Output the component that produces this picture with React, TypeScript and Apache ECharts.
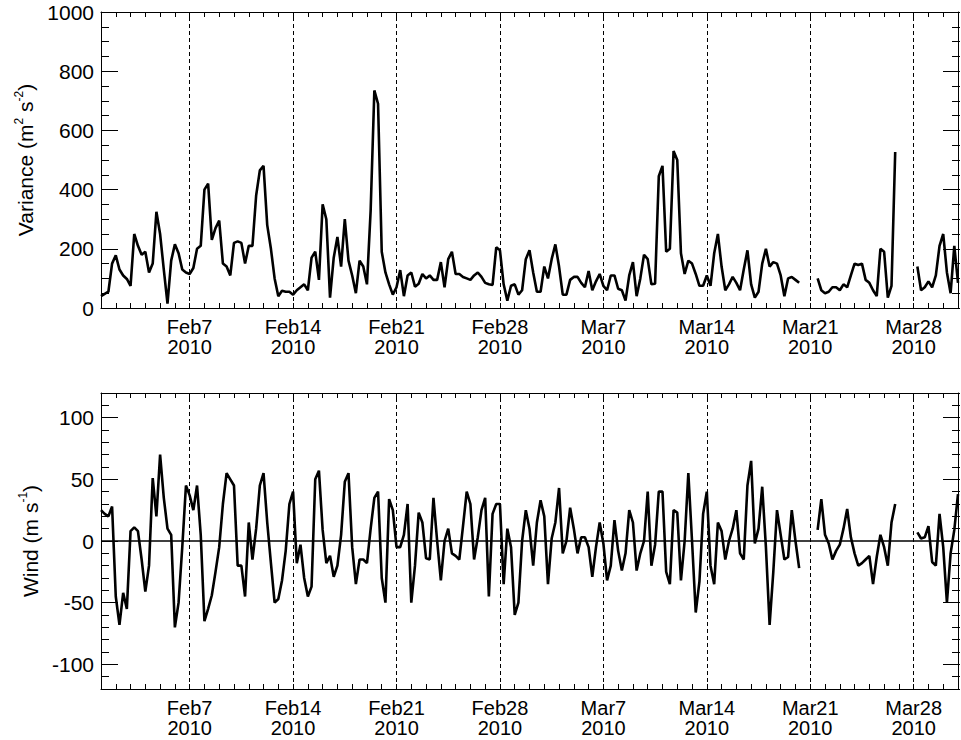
import React, { useEffect, useRef } from "react";
import * as echarts from "echarts";

// Sampling: 6-hourly from 2010-02-01 00:00 (x in days since Feb 1)
const STEP_DAYS = 0.25;
const X_MIN = 0;
const X_MAX = 58;

// Weekly reference dates (days since Feb 1) and their labels
const WEEK_DAYS = [6, 13, 20, 27, 34, 41, 48, 55];
const WEEK_LABELS = ["Feb7", "Feb14", "Feb21", "Feb28", "Mar7", "Mar14", "Mar21", "Mar28"];
const YEAR_LABEL = "2010";

const VAR_TICKS = [0, 200, 400, 600, 800, 1000];
const VAR_MINOR = [50, 100, 150, 250, 300, 350, 450, 500, 550, 650, 700, 750, 850, 900, 950];
const WIND_TICKS = [-100, -50, 0, 50, 100];
const WIND_MINOR = [-120, -110, -90, -80, -70, -60, -40, -30, -20, -10, 10, 20, 30, 40, 60, 70, 80, 90, 110, 120];

// Variance (m^2 s^-2), null = missing
const VARIANCE: (number | null)[] = [
  40, 48, 55, 150, 178, 130, 110, 98, 75, 250,
  210, 180, 190, 120, 150, 325, 250, 130, 15, 160,
  215, 185, 130, 120, 115, 135, 200, 210, 400, 420,
  230, 270, 295, 150, 140, 110, 220, 225, 220, 150,
  210, 210, 380, 465, 480, 280, 200, 100, 40, 58,
  55, 55, 45, 60, 70, 80, 60, 170, 190, 95,
  350, 300, 35, 170, 240, 140, 300, 160, 110, 50,
  160, 140, 80, 330, 735, 690, 190, 120, 80, 45,
  70, 128, 40, 110, 120, 72, 82, 115, 100, 110,
  95, 95, 155, 70, 165, 190, 115, 115, 105, 100,
  95, 110, 120, 105, 85, 80, 78, 205, 195, 80,
  25, 75, 80, 45, 60, 165, 195, 120, 55, 55,
  140, 100, 165, 215, 140, 45, 45, 95, 105, 105,
  85, 70, 125, 60, 90, 115, 75, 60, 110, 110,
  65, 60, 25, 110, 155, 40, 100, 180, 165, 80,
  82, 445, 480, 190, 200, 530, 500, 185, 115, 160,
  150, 115, 75, 75, 110, 75, 185, 250, 140, 60,
  80, 105, 85, 60, 130, 195, 80, 35, 55, 150,
  200, 140, 155, 150, 110, 40, 100, 105, 95, 85,
  null, null, null, null, 100, 60, 50, 55, 70, 70,
  60, 80, 70, 110, 150, 145, 150, 95, 85, 60,
  40, 200, 190, 35, 75, 527, null, null, null, null,
  null, 140, 60, 70, 90, 70, 110, 210, 250, 120,
  50, 210, 85,
];

// Wind (m s^-1), null = missing
const WIND: (number | null)[] = [
  25, 22, 20, 28, -45, -68, -42, -55, 8, 11,
  8, -15, -41, -20, 51, 20, 70, 35, 10, 5,
  -70, -50, -5, 45, 37, 25, 45, 5, -65, -55,
  -44, -25, -5, 30, 55, 50, 45, -20, -20, -45,
  15, -15, 10, 45, 55, 15, -18, -50, -47, -32,
  -8, 30, 40, -18, -3, -30, -45, -37, 50, 57,
  9, -18, -12, -29, -20, 5, 48, 55, -5, -35,
  -15, -15, -18, 10, 35, 40, -30, -50, 34, 25,
  -5, -5, 5, 30, -50, -20, 23, 15, -14, -15,
  35, 0, -32, 0, 10, -10, -12, -15, 12, 40,
  30, -15, 3, 25, 35, -45, 22, 30, 30, -35,
  10, -5, -60, -50, 0, 25, 10, -20, 15, 33,
  20, -35, 2, 15, 43, -10, 0, 27, 10, -10,
  3, 3, -5, -29, -5, 15, -2, -32, -20, 17,
  -8, -24, -10, 25, 15, -24, -10, 0, 40, -20,
  -3, 40, 40, -25, -35, 25, 23, -32, 0, 55,
  0, -58, -33, 22, 40, -20, -35, 15, 8, -15,
  0, 10, 25, -10, -15, 45, 65, -2, 10, 44,
  -5, -68, -25, 25, 5, -15, -13, 25, 0, -22,
  null, null, null, null, 9, 34, 5, -2, -15, -8,
  -3, 10, 26, 3, -10, -20, -18, -15, -12, -35,
  -13, 5, -5, -20, 15, 30, null, null, null, null,
  null, 7, 2, 3, 12, -17, -20, 22, -5, -50,
  -10, 9, 38,
];

const FONT = "'Liberation Sans', Arial, Helvetica, sans-serif";
const BLACK = "#000";

function toPairs(arr: (number | null)[]) {
  return arr.map((v, i) => [i * STEP_DAYS, v == null ? "-" : v]);
}

function xLabel(v: number) {
  const idx = WEEK_DAYS.indexOf(Math.round(v));
  if (idx >= 0 && Math.abs(v - WEEK_DAYS[idx]) < 1e-6) return WEEK_LABELS[idx] + "\n" + YEAR_LABEL;
  return "";
}

function xAxis(gridIndex: number, position: "top" | "bottom", showLabel: boolean) {
  return {
    type: "value",
    gridIndex,
    position,
    min: X_MIN,
    max: X_MAX,
    interval: 1,
    axisLine: { show: true, onZero: false, lineStyle: { color: BLACK, width: 1 } },
    axisTick: { show: true, inside: true, length: 5, lineStyle: { color: BLACK, width: 1 } },
    axisLabel: {
      show: showLabel,
      formatter: xLabel,
      fontSize: 20,
      lineHeight: 20,
      color: BLACK,
      fontFamily: FONT,
      margin: 9,
    },
    splitLine: { show: false },
  };
}

function hiddenX(gridIndex: number) {
  return { type: "value", gridIndex, min: X_MIN, max: X_MAX, show: false };
}

const nameRich = {
  n: { fontSize: 21, fontFamily: FONT, color: BLACK, lineHeight: 26 },
  s: { fontSize: 12, fontFamily: FONT, color: BLACK, verticalAlign: "top", lineHeight: 14 },
};

const plainNum = (v: number) => String(v);

// Labelled y axis (axis line, labels, name) – no ticks
function labelAxis(grid: number, position: "left" | "right", min: number, max: number, labels: number[] | null, name?: string) {
  const ax: any = {
    type: "value",
    gridIndex: grid,
    position,
    min,
    max,
    axisLine: { show: true, onZero: false, lineStyle: { color: BLACK, width: 1 } },
    axisTick: { show: false },
    axisLabel: labels
      ? { show: true, fontSize: 21, color: BLACK, fontFamily: FONT, margin: 7, customValues: labels, formatter: plainNum }
      : { show: false },
    splitLine: { show: false },
  };
  if (name) {
    ax.name = name;
    ax.nameLocation = "middle";
    ax.nameGap = 58;
    ax.nameRotate = 90;
    ax.nameTextStyle = { rich: nameRich };
  }
  return ax;
}

// Tick-only y axis (lives in an overlay grid)
function tickAxis(grid: number, position: "left" | "right", min: number, max: number, ticks: number[], len: number) {
  return {
    type: "value",
    gridIndex: grid,
    position,
    min,
    max,
    axisLine: { show: false, onZero: false },
    axisTick: { show: true, inside: true, length: len, customValues: ticks, lineStyle: { color: BLACK, width: 1 } },
    axisLabel: { show: false },
    splitLine: { show: false },
  };
}

export default function App() {
  const ref = useRef<HTMLDivElement>(null);

  useEffect(() => {
    if (!ref.current) return;
    const chart = echarts.init(ref.current, null, { renderer: "svg" });

    const dashed = WEEK_DAYS.map((d) => ({ xAxis: d }));
    const dashStyle = { type: [4, 3], color: BLACK, width: 1 };

    const option: any = {
      animation: false,
      grid: [
        { left: 101, right: 1, top: 12, height: 296 },
        { left: 101, right: 1, top: 393, height: 296 },
        { left: 101, right: 1, top: 12, height: 296 },
        { left: 101, right: 1, top: 393, height: 296 },
      ],
      xAxis: [
        xAxis(0, "bottom", true),
        xAxis(0, "top", false),
        xAxis(1, "bottom", true),
        xAxis(1, "top", false),
        hiddenX(2),
        hiddenX(3),
      ],
      yAxis: [
        labelAxis(0, "left", 0, 1000, VAR_TICKS, "{n|Variance (m}{s|2}{n| s}{s|-2}{n|)}"),
        labelAxis(0, "right", 0, 1000, null),
        labelAxis(1, "left", -120, 120, WIND_TICKS, "{n|Wind (m s}{s|-1}{n|)}"),
        labelAxis(1, "right", -120, 120, null),
        tickAxis(2, "left", 0, 1000, VAR_TICKS, 17),
        tickAxis(2, "right", 0, 1000, VAR_TICKS, 17),
        tickAxis(2, "left", 0, 1000, VAR_MINOR, 8),
        tickAxis(2, "right", 0, 1000, VAR_MINOR, 8),
        tickAxis(3, "left", -120, 120, WIND_TICKS, 17),
        tickAxis(3, "right", -120, 120, WIND_TICKS, 17),
        tickAxis(3, "left", -120, 120, WIND_MINOR, 8),
        tickAxis(3, "right", -120, 120, WIND_MINOR, 8),
      ],
      series: [
        {
          name: "Variance",
          type: "line",
          xAxisIndex: 0,
          yAxisIndex: 0,
          data: toPairs(VARIANCE),
          showSymbol: false,
          connectNulls: false,
          lineStyle: { color: BLACK, width: 2.6 },
          markLine: {
            silent: true,
            symbol: "none",
            label: { show: false },
            lineStyle: dashStyle,
            data: dashed,
          },
        },
        {
          name: "Wind",
          type: "line",
          xAxisIndex: 2,
          yAxisIndex: 2,
          data: toPairs(WIND),
          showSymbol: false,
          connectNulls: false,
          lineStyle: { color: BLACK, width: 2.6 },
          markLine: {
            silent: true,
            symbol: "none",
            label: { show: false },
            lineStyle: dashStyle,
            data: [
              ...dashed,
              { yAxis: 0, lineStyle: { type: "solid", color: BLACK, width: 1.5 } },
            ],
          },
        },
      ],
    };

    chart.setOption(option);
    return () => chart.dispose();
  }, []);

  return (
    <div
      ref={ref}
      style={{ position: "absolute", left: 0, top: 0, width: 961, height: 740 }}
    />
  );
}
